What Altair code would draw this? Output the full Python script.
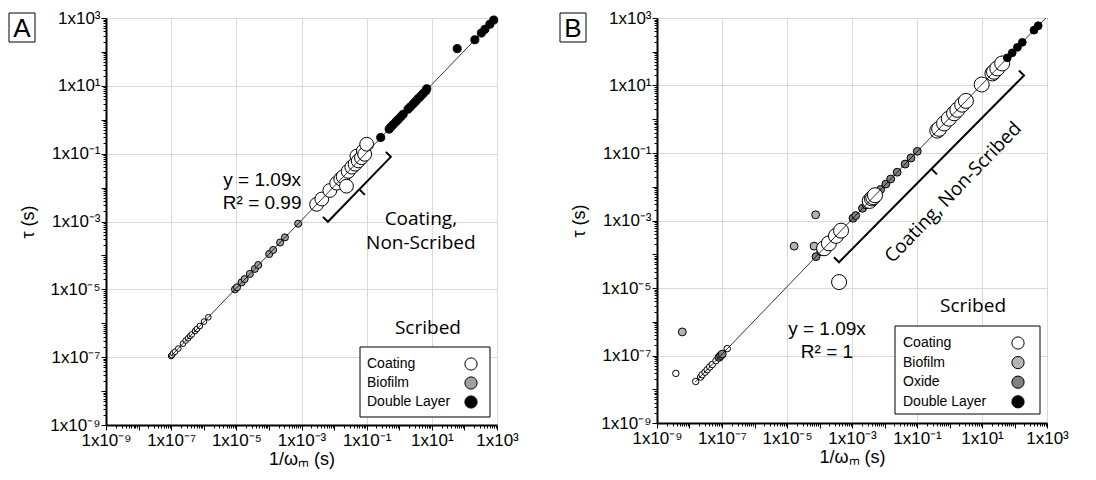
import altair as alt
import pandas as pd

ARIAL = "Liberation Sans"
CALIBRI = "Open Sans"

CATS_A = ["Coating", "Biofilm", "Double Layer"]
FILLS_A = ["#ffffff", "#a0a0a0", "#000000"]
CATS_B = ["Coating", "Biofilm", "Oxide", "Double Layer"]
FILLS_B = ["#ffffff", "#b4b4b4", "#808080", "#000000"]

a_coat_scr_x = [1.00e-7, 1.05e-7, 1.15e-7, 1.32e-7, 1.66e-7, 2.3e-7, 2.8e-7, 3.3e-7,
                3.8e-7, 4.3e-7, 5.4e-7, 6.2e-7, 7.6e-7, 1.02e-6, 1.38e-6]
a_coat_scr_y = [1.08e-7, 1.15e-7, 1.3e-7, 1.45e-7, 1.8e-7, 2.5e-7, 3.1e-7, 3.6e-7,
                4.2e-7, 4.7e-7, 5.9e-7, 6.8e-7, 8.3e-7, 1.12e-6, 1.5e-6]
a_bio_x = [9.1e-6, 1.05e-5, 1.45e-5, 1.8e-5, 2.6e-5, 3.7e-5, 4.7e-5, 1.02e-4,
           1.35e-4, 2.2e-4, 3.1e-4, 7.9e-4]
a_bio_y = [1.0e-5, 1.15e-5, 1.6e-5, 2.0e-5, 2.85e-5, 4.0e-5, 5.2e-5, 1.1e-4,
           1.45e-4, 2.4e-4, 3.4e-4, 8.6e-4]
a_coat_ns_x = [2.9e-3, 4.2e-3, 7.4e-3, 1.2e-2, 1.6e-2, 1.9e-2, 2.4e-2, 2.7e-2,
               3.5e-2, 4.4e-2, 5.0e-2, 5.5e-2, 6.9e-2, 7.9e-2, 8.7e-2, 0.10]
a_coat_ns_y = [3.2e-3, 4.6e-3, 8.2e-3, 1.35e-2, 1.8e-2, 2.1e-2, 1.1e-2, 3.0e-2,
               4.0e-2, 4.9e-2, 8.5e-2, 6.1e-2, 7.6e-2, 0.12, 9.6e-2, 0.19]
a_dl_x = [0.27, 0.49, 0.56, 0.65, 0.79, 0.93, 1.12, 1.32, 1.86, 2.2, 2.7, 3.2,
          3.8, 4.5, 5.4, 6.6, 7.0, 60, 209, 331, 427, 603, 794]
a_dl_y = [0.30, 0.53, 0.62, 0.72, 0.87, 1.02, 1.23, 1.45, 2.05, 2.4, 2.95, 3.5,
          4.2, 4.9, 5.9, 7.2, 8.2, 125, 228, 360, 465, 655, 870]

b_coat_scr_x = [3.8e-9, 1.55e-8, 2.2e-8, 2.45e-8, 3.0e-8, 3.5e-8, 4.2e-8, 5.0e-8, 6.5e-8, 1.45e-7]
b_coat_scr_y = [2.95e-8, 1.7e-8, 2.3e-8, 2.7e-8, 3.2e-8, 3.8e-8, 4.6e-8, 5.4e-8, 7.0e-8, 1.6e-7]
b_bio_x = [6.0e-9, 1.66e-5, 6.8e-5, 7.6e-5]
b_bio_y = [5.0e-7, 1.74e-4, 1.74e-4, 1.48e-3]
b_ox_x = [8.1e-8, 9.1e-8, 1.02e-7, 7.8e-5, 1.1e-4, 1.07e-3, 1.3e-3, 2.1e-3, 2.7e-3,
          3.3e-3, 7.6e-3, 1.1e-2, 1.55e-2, 2.45e-2, 4.3e-2, 6.5e-2, 0.102]
b_ox_y = [8.8e-8, 9.9e-8, 1.1e-7, 8.5e-5, 1.2e-4, 1.17e-3, 1.4e-3, 2.3e-3, 2.9e-3,
          3.6e-3, 8.3e-3, 1.2e-2, 1.7e-2, 2.7e-2, 4.7e-2, 7.1e-2, 0.112]
b_coat_ns_x = [1.38e-4, 1.95e-4, 3.2e-4, 4.0e-4, 4.6e-4, 3.5e-3, 4.1e-3, 4.5e-3, 5.1e-3,
               0.42, 0.48, 0.68, 0.95, 1.38, 1.74, 2.45, 3.2, 9.8, 20.9, 23.4, 29.5, 41.7]
b_coat_ns_y = [1.5e-4, 2.1e-4, 3.5e-4, 1.5e-5, 5.0e-4, 3.8e-3, 4.5e-3, 4.9e-3, 5.6e-3,
               0.46, 0.52, 0.75, 1.04, 1.5, 1.9, 2.7, 3.5, 10.7, 22.8, 25.5, 32, 45]
b_dl_x = [60, 85, 123, 174, 398, 537]
b_dl_y = [66, 93, 135, 190, 435, 590]

FIT_SLOPE = 1.09
a_fit_x = [1e-7, 1e3]
b_fit_x = [1.5e-8, 1e3]

a_eq_text = ["y = 1.09x", "R² = 0.99"]
a_eq_x = [6.2e-5, 6.2e-5]
a_eq_y = [1.7e-2, 3.5e-3]
b_eq_text = ["y = 1.09x", "R² = 1"]
b_eq_x = [1.7e-4, 1.7e-4]
b_eq_y = [6.0e-7, 1.26e-7]

a_ns_text = ["Coating,", "Non-Scribed"]
a_ns_x = [4.6, 4.6]
a_ns_y = [1.2e-3, 2.3e-4]
b_ns_text = ["Coating, Non-Scribed"]
b_ns_x = [1.29]
b_ns_y = [6.8e-3]

a_scr_x, a_scr_y = [7.6], [7.2e-7]
b_scr_x, b_scr_y = [5.3], [2.9e-6]

a_br_x = [4.53e-3, 6.46e-3, 0.552, 0.388]
a_br_y = [1.37e-3, 9.8e-4, 8.05e-2, 0.113]
a_brm_x = [5.97e-2, 8.8e-2]
a_brm_y = [8.85e-3, 6.1e-3]
b_br_x = [2.79e-4, 3.98e-4, 196, 137]
b_br_y = [8.15e-5, 5.8e-5, 19.8, 27.8]
b_brm_x = [0.279, 0.412]
b_brm_y = [3.39e-2, 2.33e-2]

TICKS = [m * 10.0 ** e for e in range(-9, 3) for m in range(1, 10)] + [1000.0]
SUPS = ["⁻⁹", "⁻⁸", "⁻⁷", "⁻⁶", "⁻⁵", "⁻⁴", "⁻³", "⁻²", "⁻¹", "⁰", "¹", "²", "³"]
EXP = "round(log(datum.value)/LN10)"
IS_DEC = f"abs(log(datum.value)/LN10 - {EXP}) < 0.001"
IS_MAJ = f"({IS_DEC}) && abs({EXP}) % 2 == 1"
SUP_ARR = "[" + ",".join(f"'{s}'" for s in SUPS) + "]"
LABEL_EXPR = f"({IS_MAJ}) ? '1x10' + {SUP_ARR}[{EXP} + 9] : ''"

SCALE = alt.Scale(type="log", domain=[1e-9, 1e3], nice=False)


def axis(title, label_pad, title_pad):
    return alt.Axis(
        values=TICKS, labelExpr=LABEL_EXPR, title=title,
        labelOverlap=False, labelFlush=False,
        labelFont=ARIAL, labelFontSize=17, labelColor="black",
        labelPadding=label_pad,
        titleFont=ARIAL, titleFontSize=18, titleFontWeight="normal", titleColor="black",
        titlePadding=title_pad,
        domainColor="black", domainWidth=2,
        tickColor="black", tickWidth=1,
        tickSize={"condition": {"test": IS_DEC, "value": 5}, "value": 3},
        grid=True, gridColor="#d9d9d9", gridWidth=1,
        gridOpacity={"condition": {"test": IS_MAJ, "value": 1}, "value": 0},
    )


X_AX = axis("1/ωₘ (s)", 2, 2)
Y_AX = axis("τ (s)", 1, 12)
XE = alt.X("x:Q", scale=SCALE, axis=X_AX)
YE = alt.Y("y:Q", scale=SCALE, axis=Y_AX)


def xy_df(xs, ys):
    return pd.DataFrame({"x": xs, "y": ys})


def xy_text_df(texts, xs, ys):
    return pd.DataFrame({"t": texts, "x": xs, "y": ys})


def panel(groups, cats, fills, fit_x, eq, ns, ns_angle, scr, br, brm,
          letter, leg, width, height):
    layers = []
    for xs, ys, fill, size in groups:
        layers.append(alt.Chart(xy_df(xs, ys)).mark_point(
            shape="circle", filled=True, fill=fill, stroke="black", strokeWidth=1,
            opacity=1, size=size).encode(x=XE, y=YE))

    fit = alt.Chart(pd.DataFrame({"x": fit_x})).transform_calculate(
        y=f"{FIT_SLOPE} * datum.x"
    ).mark_line(color="black", strokeWidth=0.8, clip=True).encode(x=XE, y=YE)

    eq_txt = alt.Chart(xy_text_df(*eq)).mark_text(
        font=ARIAL, fontSize=19, color="black", align="center", baseline="middle"
    ).encode(x=XE, y=YE, text="t:N")

    ns_txt = alt.Chart(xy_text_df(*ns)).mark_text(
        font=CALIBRI, fontSize=19, color="black", align="center", baseline="middle",
        angle=ns_angle
    ).encode(x=XE, y=YE, text="t:N")

    scr_txt = alt.Chart(xy_text_df(["Scribed"], *scr)).mark_text(
        font=CALIBRI, fontSize=19, color="black", align="center", baseline="middle"
    ).encode(x=XE, y=YE, text="t:N")

    br_df = pd.DataFrame({"x": br[0], "y": br[1], "i": list(range(len(br[0])))})
    bracket = alt.Chart(br_df).mark_line(color="black", strokeWidth=2).encode(
        x=XE, y=YE, order="i:Q")
    brm_df = pd.DataFrame({"x": brm[0], "y": brm[1], "i": [0, 1]})
    bracket_mid = alt.Chart(brm_df).mark_line(color="black", strokeWidth=2).encode(
        x=XE, y=YE, order="i:Q")

    one = pd.DataFrame({"t": [letter]})
    lbox = alt.Chart(one).mark_rect(fill="white", stroke="black", strokeWidth=1).encode(
        x=alt.value(-97), x2=alt.value(-71), y=alt.value(-5), y2=alt.value(24))
    ltxt = alt.Chart(one).mark_text(font=ARIAL, fontSize=26, color="black",
                                    align="center", baseline="middle").encode(
        x=alt.value(-84), y=alt.value(10.5), text="t:N")

    lx0, lx1, ly0, ly1, tx, sx, row0, step = leg
    legbox = alt.Chart(one).mark_rect(fill="white", stroke="black", strokeWidth=1).encode(
        x=alt.value(lx0), x2=alt.value(lx1), y=alt.value(ly0), y2=alt.value(ly1))
    leg_layers = []
    for i, (lab, fc) in enumerate(zip(cats, fills)):
        d = pd.DataFrame({"label": [lab]})
        leg_layers.append(alt.Chart(d).mark_text(
            font=ARIAL, fontSize=14, color="black", align="left", baseline="middle"
        ).encode(x=alt.value(tx), y=alt.value(row0 + i * step), text="label:N"))
        leg_layers.append(alt.Chart(d).mark_point(
            shape="circle", filled=True, fill=fc, stroke="black", strokeWidth=1,
            size=150, opacity=1
        ).encode(x=alt.value(sx), y=alt.value(row0 + i * step)))

    layers += [fit, eq_txt, ns_txt, scr_txt, bracket, bracket_mid,
               lbox, ltxt, legbox] + leg_layers
    return alt.layer(*layers).properties(width=width, height=height)


groups_a = [
    (a_coat_scr_x, a_coat_scr_y, FILLS_A[0], 32),
    (a_bio_x, a_bio_y, FILLS_A[1], 50),
    (a_coat_ns_x, a_coat_ns_y, FILLS_A[0], 190),
    (a_dl_x, a_dl_y, FILLS_A[2], 65),
]
groups_b = [
    (b_coat_scr_x, b_coat_scr_y, FILLS_B[0], 42),
    (b_bio_x, b_bio_y, FILLS_B[1], 62),
    (b_ox_x, b_ox_y, FILLS_B[2], 62),
    (b_coat_ns_x, b_coat_ns_y, FILLS_B[0], 225),
    (b_dl_x, b_dl_y, FILLS_B[3], 60),
]

chart_a = panel(groups_a, CATS_A, FILLS_A, a_fit_x,
                (a_eq_text, a_eq_x, a_eq_y), (a_ns_text, a_ns_x, a_ns_y), 0,
                (a_scr_x, a_scr_y), (a_br_x, a_br_y), (a_brm_x, a_brm_y),
                "A", (254, 384, 329, 399, 261, 365, 346, 19), 391, 407)
chart_b = panel(groups_b, CATS_B, FILLS_B, b_fit_x,
                (b_eq_text, b_eq_x, b_eq_y), (b_ns_text, b_ns_x, b_ns_y), 314,
                (b_scr_x, b_scr_y), (b_br_x, b_br_y), (b_brm_x, b_brm_y),
                "B", (238, 383, 308, 396, 246, 361, 325, 19.6), 390, 405)

chart = alt.hconcat(chart_a, chart_b, spacing=40).properties(
    padding={"left": 0, "top": 0, "right": 0, "bottom": 0}
).configure_view(stroke="#404040", strokeWidth=1)

chart.save("out.html", embed_options={"renderer": "svg", "actions": False})
